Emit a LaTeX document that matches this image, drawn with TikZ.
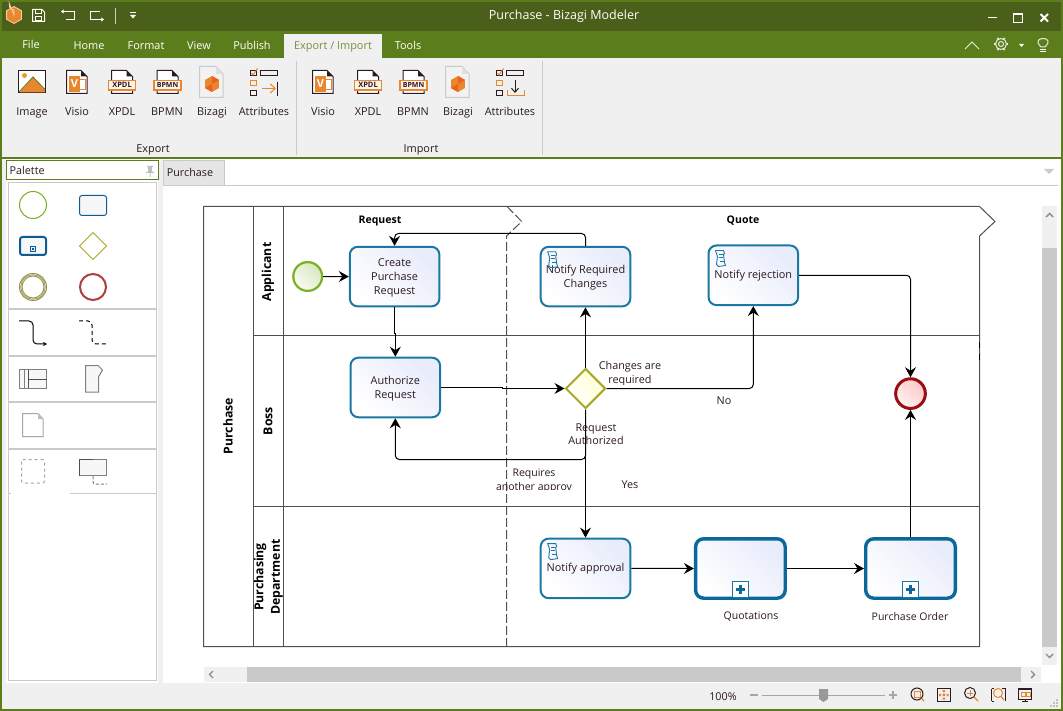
\documentclass[tikz,border=0pt]{standalone}
\usepackage{fontspec}
\setmainfont{Open Sans}
\usetikzlibrary{arrows.meta,shapes.geometric}
\definecolor{titlegreen}{HTML}{4A601A}
\definecolor{tabgreen}{HTML}{5C7D1C}
\definecolor{ribbon}{HTML}{F0F0F0}
\definecolor{ink}{HTML}{2B1A1F}
\definecolor{iconorange}{HTML}{E8872E}
\definecolor{taskblue}{HTML}{1C77A3}
\definecolor{subblue}{HTML}{0B689A}
\definecolor{palblue}{HTML}{0F5C92}
\definecolor{taskfill}{HTML}{E8ECFB}
\definecolor{poolline}{HTML}{505050}
\definecolor{gatewayolive}{HTML}{A9A72B}
\definecolor{startgreen}{HTML}{7AB021}
\definecolor{endred}{HTML}{9A0E12}
\definecolor{sepgray}{HTML}{CACACA}
\definecolor{thumb}{HTML}{C9C9C9}
\newcommand{\tstrut}{\rule{0pt}{10.5pt}}
\tikzset{
  lbl/.style={inner sep=0pt,font=\fontsize{10.8}{13.5}\selectfont,align=center,text=ink,yshift=-1pt},
  smalllbl/.style={lbl,font=\fontsize{10.5}{14}\selectfont},
  ribbonlbl/.style={inner sep=0pt,text=ink,font=\fontsize{10.9}{13}\selectfont,text height=9pt,text depth=1pt,yshift=-.8pt},
  tablbl/.style={ribbonlbl,text=white},
  boldlbl/.style={inner sep=0pt,align=center,text=black,font=\fontsize{10.5}{12}\selectfont\bfseries},
  phaselbl/.style={boldlbl,text height=8pt,text depth=2.5pt},
  lanelbl/.style={boldlbl,rotate=90,font=\fontsize{12.3}{16.5}\selectfont\bfseries},
  task/.style={draw=taskblue,line width=2pt,rounded corners=8pt,minimum width=89.6pt,minimum height=59.6pt,
    left color=white,right color=taskfill,shading angle=135,inner sep=0pt,align=center,
    font=\fontsize{10.9}{14}\selectfont,text=ink,outer sep=1pt},
  subproc/.style={task,draw=subblue,line width=3.4pt,minimum width=89.6pt,minimum height=59.4pt,outer sep=1.7pt},
  marker/.style={draw=taskblue,line width=1pt,fill=white,minimum width=16pt,minimum height=16pt,inner sep=0pt},
  flow/.style={draw=black,line width=1pt,rounded corners=4pt,-{Stealth[length=10pt,width=11pt,inset=3.5pt]}},
  pool/.style={draw=poolline,line width=1pt},
  ic/.style={draw=ink,line width=1pt},
  oc/.style={draw=iconorange,line width=1pt},
  wh/.style={draw=white,line width=1pt},
}
% ribbon icon helpers
\newcommand{\docpage}[4]{% x1 y1 x2 y2
  \fill[white] (#1,#2) -- (#3-6,#2) -- (#3,#2+6) -- (#3,#4) -- (#1,#4) -- cycle;
  \draw[ic] (#1,#4) -- (#1,#2) -- (#3-6,#2) -- (#3,#2+6) -- (#3,#4) -- cycle;
  \fill[ink] (#3-6,#2) -- (#3-6,#2+6) -- (#3,#2+6) -- cycle;}
\newcommand{\visioicon}[1]{\begin{scope}[shift={(#1,0)}]
  \docpage{66.5}{70.5}{87}{93.5}
  \draw[oc,fill=white] (75,79.5) rectangle (85,90);
  \fill[iconorange] (69,76) rectangle (80,92);
  \node[inner sep=0pt,text=white,font=\fontsize{11}{11}\selectfont\bfseries] at (74.5,84) {V};
\end{scope}}
\newcommand{\tagicon}[4]{\begin{scope}[shift={(#1,0)}]
  \docpage{#2+3}{70.5}{#2+24}{93.5}
  \draw[oc,line width=1.4pt,fill=white!90!iconorange] (#2,80.5) rectangle (#2+27,90);
  \node[inner sep=0pt,text=ink,font=\fontsize{#4}{8}\selectfont\bfseries] at (#2+13.5,85.3) {#3};
\end{scope}}
\newcommand{\hexa}[3]{% cx cy r
  \fill[iconorange] (#1,#2-#3) -- (#1+.87*#3,#2-.5*#3) -- (#1+.87*#3,#2+.5*#3) -- (#1,#2+#3) -- (#1-.87*#3,#2+.5*#3) -- (#1-.87*#3,#2-.5*#3) -- cycle;}
\newcommand{\bizicon}[1]{\begin{scope}[shift={(#1,0)}]
  \draw[sepgray,fill=white!95!black,line width=1pt] (199.5,66.5) -- (216,66.5) -- (223,74) -- (223,97.5) -- (199.5,97.5) -- cycle;
  \fill[sepgray!60] (216,66.5) -- (216,74) -- (223,74) -- cycle;
  \hexa{212}{84}{8}
  \fill[iconorange!70!red] (212,84) -- (212,92) -- (205,88) -- cycle;
  \fill[iconorange!70!red] (212,84) -- (212,76) -- (219,80) -- cycle;
\end{scope}}
\newcommand{\attrbase}[1]{\begin{scope}[shift={(#1,0)}]
  \draw[ic] (250.5,70.5) rectangle (256,75.5);
  \draw[oc] (251.5,73) -- (253,75) -- (257.5,68.5);
  \draw[ic] (260.5,70.5) rectangle (277.5,76);
  \draw[oc] (250.5,80.5) rectangle (256,86);
  \draw[ic] (250.5,90.5) rectangle (256,96);
\end{scope}}
\newcommand{\scrollicon}[1]{\begin{scope}[shift={(#1)},draw=taskblue,line width=.9pt]
  \draw (8,6) -- (16,6) -- (17,9) -- (16,10) -- (17,18) -- (18,21) -- (11,22) -- (9,20) -- (10,12) -- (8,6) -- cycle;
  \draw[line width=.7pt] (11,9.5) -- (15,9.5) (11.5,13) -- (15.5,13) (12,16.5) -- (16,16.5);
\end{scope}}
\begin{document}
\begin{tikzpicture}[x=1pt,y=-1pt]
\useasboundingbox (0,0) rectangle (1063,711);
% window
\fill[white] (0,0) rectangle (1063,711);
\fill[titlegreen] (0,0) rectangle (1063,31);
\fill[tabgreen] (0,0) rectangle (1063,2);
\fill[tabgreen] (0,31) rectangle (1063,58);
\fill[ribbon] (2,58) rectangle (1061,158);
\fill[tabgreen] (0,157.5) rectangle (1063,159.5);
\fill[ribbon] (284,34) rectangle (382,58);
\fill[ribbon] (2,683) rectangle (1061,709);
\fill[ribbon] (158,160) rectangle (163,683);
\fill[ribbon] (2,160) rectangle (6,683);
\fill[tabgreen] (0,0) rectangle (2,711);
\fill[tabgreen] (1061,0) rectangle (1063,711);
\fill[tabgreen] (0,709) rectangle (1063,711);
% title bar
\hexa{14}{15}{8.5}
\draw[white!60!iconorange,line width=.8pt] (14,15) -- (14,10) arc (90:200:5) -- cycle;
\draw[white!60!iconorange,line width=.8pt] (14,6.5) -- (21.4,10.7) -- (21.4,19.3) -- (14,23.5) -- (6.6,19.3) -- (6.6,10.7) -- cycle;
\draw[wh] (32.5,9.5) -- (42,9.5) -- (44.5,12) -- (44.5,21.5) -- (32.5,21.5) -- cycle;
\draw[wh] (35,10) rectangle (41,14) (35.5,17) rectangle (41.5,21);
\draw[wh] (66,11.5) -- (74.5,11.5) -- (74.5,19.5) -- (66,19.5);
\draw[wh,-{Stealth[length=3pt,width=4pt]}] (66,11.5) -- (61,11.5);
\draw[wh] (90.5,11.5) -- (100,11.5) (90.5,11.5) -- (90.5,19.5) -- (103,19.5);
\draw[wh,-{Stealth[length=3pt,width=4pt]}] (99,19.5) -- (104,19.5);
\draw[draw=white!70!titlegreen] (115.5,8) -- (115.5,24);
\draw[wh,line width=.8pt] (130,12.5) -- (136,12.5);
\fill[white] (130,15) -- (136,15) -- (133,18.5) -- cycle;
\node[ribbonlbl,text=white,font=\fontsize{12.5}{14}\selectfont] (title) at (564,14.7) {Purchase - Bizagi Modeler};
\draw[white,line width=1.6pt] (988,17.5) -- (997,17.5);
\draw[white,line width=1pt] (1013.5,14) rectangle (1022.5,23);
\draw[white,line width=2pt] (1013.5,14) -- (1022.5,14);
\draw[white,line width=1.8pt] (1040.5,14) -- (1048,21.5) (1048,14) -- (1040.5,21.5);
% tab bar
\node[tablbl] (tfile) at (31,44) {File};
\node[tablbl] (thome) at (89,44.5) {Home};
\node[tablbl] (tformat) at (146,44.5) {Format};
\node[tablbl] (tview) at (199,44.5) {View};
\node[tablbl] (tpublish) at (252,44.5) {Publish};
\node[tablbl,text=tabgreen!85!white] (texport) at (333,44.5) {Export / Import};
\node[tablbl] (ttools) at (408,44.5) {Tools};
\draw[white!85!tabgreen,line width=1pt] (965,49) -- (972,42) -- (979,49);
\draw[white!85!tabgreen,line width=1pt,fill=tabgreen] (1001,44) circle (5.5);
\draw[white!85!tabgreen,line width=1pt] (1001,44) circle (2.5);
\foreach \a in {0,60,...,300}{\draw[white!85!tabgreen,line width=1.6pt] (1001,44) ++(\a:5.5) -- ++(\a:1.6);}
\fill[white] (1019,44) -- (1024,44) -- (1021.5,47) -- cycle;
\draw[white!85!tabgreen,line width=1pt] (1041,47) .. controls (1035,41) and (1039,38.5) .. (1043,38.5) .. controls (1047,38.5) and (1051,41) .. (1045,47) -- cycle;
\draw[white,line width=1pt] (1040,49.5) -- (1046,49.5) (1040,51.5) -- (1046,51.5);
% ribbon separators
\draw[sepgray] (296.5,61) -- (296.5,155);
\draw[sepgray] (542.5,61) -- (542.5,155);
% export icons
\draw[ic,fill=white] (18.5,70.5) rectangle (45.5,93);
\fill[iconorange] (19.5,92.5) -- (33,77) -- (45,90) -- (45,92.5) -- cycle;
\draw[draw=startgreen!60!ink,line width=.8pt] (19,92) -- (33,77) -- (45,89.5);
\fill[iconorange!85!yellow] (24.5,75.5) circle (2.5);
\visioicon{0}
\tagicon{0}{108.5}{XPDL}{7.5}
\draw[iconorange] (166,75) circle (2) (166,77) -- (166,80.5);
\tagicon{0}{154}{BPMN}{7}
\bizicon{0}
\attrbase{0}
\draw[oc,-{Straight Barb[length=5pt,width=9pt]}] (262,88.5) -- (276,88.5);
\draw[ic] (277.5,82) -- (277.5,96);
% import icons
\visioicon{246}
\tagicon{0}{354.5}{XPDL}{7.5}
\draw[iconorange] (412,75) circle (2) (412,77) -- (412,80.5);
\tagicon{0}{400}{BPMN}{7}
\bizicon{246}
\attrbase{246}
\draw[ic,-{Straight Barb[length=4pt,width=7pt]}] (515,80) -- (515,93);
\draw[oc] (507.5,90) -- (507.5,95.5) -- (524.5,95.5) -- (524.5,90);
% ribbon labels
\foreach \n/\x/\t in {r1/32/Image,r2/77/Visio,r3/122/XPDL,r4/167/BPMN,r5/212/Bizagi,r6/264/Attributes,
  r7/323/Visio,r8/368/XPDL,r9/413/BPMN,r10/458/Bizagi,r11/510/Attributes}
  \node[ribbonlbl] (\n) at (\x,111) {\t};
\node[ribbonlbl] (gexport) at (153,148) {Export};
\node[ribbonlbl] (gimport) at (421,148) {Import};
% palette
\node[draw=tabgreen,line width=1pt,fill=white,minimum width=152pt,minimum height=19pt,inner sep=0pt,anchor=north west,outer sep=0pt] (palhead) at (6.5,160.5) {};
\node[lbl,anchor=west] (paltext) at (9.5,169) {Palette};
\fill[white!50!gray] (147,166) rectangle (153,167) (148,167) rectangle (152,172) (146,172) rectangle (154,173) (149.5,173) rectangle (150.5,177);
\draw[sepgray,fill=white,line width=1pt] (8.5,182.5) rectangle (156.5,680);
\foreach \yy in {309.5,356,402,448.5}{\fill[sepgray] (9,\yy-1) rectangle (156,\yy+1);}
\draw[sepgray] (9,493.5) -- (11,493.5) (70,493.5) -- (156,493.5);
\draw[startgreen,line width=1pt] (33,205) circle (13.5);
\draw[draw=palblue,line width=1pt,fill=white!97!black,rounded corners=2.5pt] (79.5,195.5) rectangle (106.5,215.5);
\draw[draw=palblue,line width=2pt,fill=white!97!black,rounded corners=2.5pt] (20,237) rectangle (46,255);
\draw[draw=palblue,line width=1pt,fill=taskfill] (30.5,246.5) rectangle (35.5,251.5);
\fill[palblue] (32,248) rectangle (34,250);
\draw[gatewayolive,line width=1pt,fill=white] (93,232.5) -- (106.5,246) -- (93,259.5) -- (79.5,246) -- cycle;
\draw[draw=gatewayolive!55!gray,line width=1pt] (33,287) circle (13.5) (33,287) circle (11);
\draw[draw=gatewayolive!55!gray,line width=.7pt] (33,287) circle (12.3);
\draw[draw=endred!80!white,line width=2pt] (93,287) circle (13);
\draw[black,line width=1pt,rounded corners=4pt,-{Stealth[length=4pt,width=4pt]}] (19,321) -- (33,321) -- (33,344) -- (47,344);
\draw[black,line width=1pt,rounded corners=4pt,dash pattern=on 4pt off 3pt] (79,321) -- (92,321) -- (92,344) -- (107,344);
\draw[draw=gray,line width=1pt,fill=white!97!black] (19.5,369.5) rectangle (46.5,388);
\draw[gray] (24.5,369.5) -- (24.5,388);
\draw[draw=poolline,line width=1pt] (28.5,369.5) -- (28.5,388) (28.5,379.5) -- (46.5,379.5);
\draw[draw=gray,line width=1pt,fill=white!97!black] (85.5,365.5) -- (98,365.5) -- (102.5,370) -- (98.5,377) -- (98.5,392) -- (85.5,392) -- cycle;
\draw[draw=gray!70,line width=1pt,fill=white] (22.5,413.5) -- (38,413.5) -- (43,419) -- (43,436.5) -- (22.5,436.5) -- cycle;
\fill[gray!50] (38,413.5) -- (38,419) -- (43,419) -- cycle;
\draw[draw=gray!70,line width=1pt,dashed,rounded corners=2pt] (21.5,459.5) rectangle (44.5,483);
\draw[draw=gray,line width=1pt,fill=white!97!black] (79.5,459.5) rectangle (106.5,475.5);
\draw[draw=poolline,line width=1pt] (79.5,475.5) -- (79.5,459.5) -- (93,459.5);
\draw[draw=gray,line width=1pt,rounded corners=2pt,dash pattern=on 3pt off 2pt] (93,476) -- (93,484) -- (107,484);
% document tab
\fill[white!90!black] (163,160) rectangle (225,185);
\draw[sepgray] (163.5,185) -- (163.5,160.5) -- (224.5,160.5) -- (224.5,185);
\draw[sepgray] (163,185.5) -- (1058,185.5);
\node[lbl] (doctab) at (190,171) {Purchase};
\fill[sepgray] (1044,169) -- (1054,169) -- (1049,174) -- cycle;
% pool
\draw[pool] (203.5,206.5) -- (979.5,206.5) -- (995,221.5) -- (979.5,236) -- (979.5,646.5) -- (203.5,646.5) -- cycle;
\draw[pool] (253.5,206.5) -- (253.5,646.5);
\draw[pool] (283.5,206.5) -- (283.5,646.5);
\draw[pool] (253.5,336) -- (979.5,336);
\draw[pool] (253.5,506) -- (979.5,506);
\draw[draw=black,line width=1pt,dash pattern=on 6pt off 6pt] (979.5,342) -- (979.5,366);
\draw[pool,dash pattern=on 9pt off 3pt] (507,206.5) -- (521.7,221.5) -- (506.5,236) -- (506.5,646.5);
\node[phaselbl] (phase1) at (380,220.5) {Request};
\node[phaselbl] (phase2) at (743,220.5) {Quote};
\node[lanelbl] (poolname) at (228,426) {Purchase};
\node[lanelbl] (lane1) at (268,272) {Applicant};
\node[lanelbl] (lane2) at (268,421) {Boss};
\node[lanelbl,align=center] (lane3) at (268.5,577) {Purchasing\\Department};
% flow objects
\node[circle,draw=startgreen,line width=2.2pt,minimum size=28.8pt,inner sep=0pt,outer sep=1.1pt,left color=white!95!startgreen,right color=startgreen!30!white,shading angle=135] (start) at (307.7,276.5) {};
\node[task] (create) at (394.6,276.6) {\tstrut Create\\Purchase\\Request};
\node[task] (nrc) at (585.5,276.6) {\tstrut Notify Required\\Changes};
\node[task] (nrej) at (753.3,275.3) {Notify rejection};
\node[task] (auth) at (395.3,387.5) {\tstrut Authorize\\Request};
\node[diamond,draw=gatewayolive,line width=2pt,minimum width=40pt,minimum height=40pt,inner sep=0pt,outer sep=1pt,left color=white,right color=yellow!18!white,shading angle=135] (gate) at (585.5,388.5) {};
\node[circle,draw=endred,line width=3pt,minimum size=29.7pt,inner sep=0pt,outer sep=1.5pt,left color=white!95!red,right color=red!22!white,shading angle=135] (stop) at (910.5,393.6) {};
\node[task] (napp) at (585.5,568.4) {Notify approval};
\node[subproc] (quot) at (740.4,568.5) {};
\node[subproc] (po) at (910.5,568.5) {};
\node[marker,anchor=south] (mq) at ([yshift=1.7pt]quot.south) {};
\node[marker,anchor=south] (mp) at ([yshift=1.7pt]po.south) {};
\foreach \m in {mq,mp}{\fill[subblue] ([xshift=-4.5pt,yshift=-1.5pt]\m.center) rectangle ([xshift=4.5pt,yshift=1.5pt]\m.center);
  \fill[subblue] ([xshift=-1.5pt,yshift=-4.5pt]\m.center) rectangle ([xshift=1.5pt,yshift=4.5pt]\m.center);}
\scrollicon{nrc.north west}
\scrollicon{nrej.north west}
\scrollicon{napp.north west}
% connectors
\coordinate (back) at (394.6,233.5);
\coordinate (ret) at (585.5,459.5);
\draw[flow] (start) -- (create);
\draw[flow,sharp corners] (create.south) -- ++(0,26) -| (auth.north);
\draw[flow] (nrc.north) |- (back) -- (create.north);
\draw[flow,sharp corners] (auth.east) -- ++(61,0) |- (gate.west);
\draw[flow] (gate.north) -- (nrc.south);
\draw[flow] (gate.east) -| (nrej.south);
\draw[flow] (gate.south) -- (ret) -| (auth.south);
\draw[flow] (gate.south) -- (napp.north);
\draw[flow] (napp.east) -- (quot.west);
\draw[flow] (quot.east) -- (po.west);
\draw[flow] (po.north) -- (stop.south);
\draw[flow] (nrej.east) -| (stop.north);
% flow labels
\begin{scope}
  \clip (590,355) rectangle (680,384);
  \node[lbl] (lchg) at (630,372.5) {Changes are\\required};
\end{scope}
\node[lbl] (lno) at (724,400) {No};
\node[lbl] (lreq) at (596,433) {Request\\Authorized};
\begin{scope}
  \clip (480,462) rectangle (590,489.5);
  \node[smalllbl] (lmore) at (534,479.5) {Requires\\another approv};
\end{scope}
\node[lbl] (lyes) at (630,484) {Yes};
\node[smalllbl] (lquot) at (751,616) {Quotations};
\node[smalllbl] (lpo) at (910,616) {Purchase Order};
% scrollbars
\fill[ribbon] (204,667) rectangle (1041,682);
\fill[thumb] (247,667) rectangle (1021,682);
\draw[draw=gray!90,line width=1.4pt] (213,671) -- (209.5,674.5) -- (213,678);
\draw[draw=gray!90,line width=1.4pt] (1031,671) -- (1034.5,674.5) -- (1031,678);
\fill[ribbon] (1042,206) rectangle (1057,665);
\fill[thumb] (1042,248) rectangle (1057,647);
\draw[draw=gray!90,line width=1.4pt] (1046,217) -- (1049.5,213.5) -- (1053,217);
\draw[draw=gray!90,line width=1.4pt] (1046,654) -- (1049.5,657.5) -- (1053,654);
% status bar
\node[lbl] (zoomval) at (723,695.5) {100\%};
\draw[gray!70,line width=1.6pt] (750,695) -- (758,695);
\draw[gray!70,line width=1pt] (762,695) -- (885,695);
\fill[gray!80] (819,689) -- (828,689) -- (828,699) -- (823.5,702) -- (819,699) -- cycle;
\draw[gray!70,line width=1.6pt] (889,695) -- (897,695) (893,691) -- (893,699);
\draw[ic] (917,694) circle (6);
\draw[oc] (914,691) rectangle (920,697);
\draw[oc,line width=1.2pt] (921.5,698.5) -- (924,701);
\draw[ic] (937.5,688.5) rectangle (950,701);
\fill[iconorange] (942.5,690) rectangle (945,692) (942.5,697.5) rectangle (945,699.5) (939,693.8) rectangle (941,696) (946.5,693.8) rectangle (948.5,696) (942.5,693.5) rectangle (945,696);
\draw[ic] (970,693) circle (5.5);
\draw[oc] (967,693) -- (973,693) (970,690) -- (970,696);
\draw[oc,line width=1.2pt] (974,697) -- (978,701);
\draw[ic] (991.5,688.5) -- (991.5,701) (991.5,688.5) -- (994,688.5) (991.5,701) -- (994,701) (1002,688.5) -- (1005,688.5) -- (1005,701);
\draw[oc] (998,693) circle (4.5);
\draw[oc,line width=1.2pt] (1001,696.5) -- (1004,700);
\fill[ink] (1018,688) rectangle (1032,690);
\draw[ic] (1018.5,689) rectangle (1031.5,699);
\draw[ic] (1025,699) -- (1025,701);
\draw[ic] (1022,701.5) -- (1028,701.5);
\draw[oc,line width=.8pt] (1021,692.5) rectangle (1025,696.5) (1026.5,692.5) rectangle (1030,696.5);
\foreach \px/\py in {1056/699,1053/702,1056/702,1050/705,1053/705,1056/705}{\fill[gray!50] (\px,\py) rectangle ++(2,2);}
\end{tikzpicture}
\end{document}
